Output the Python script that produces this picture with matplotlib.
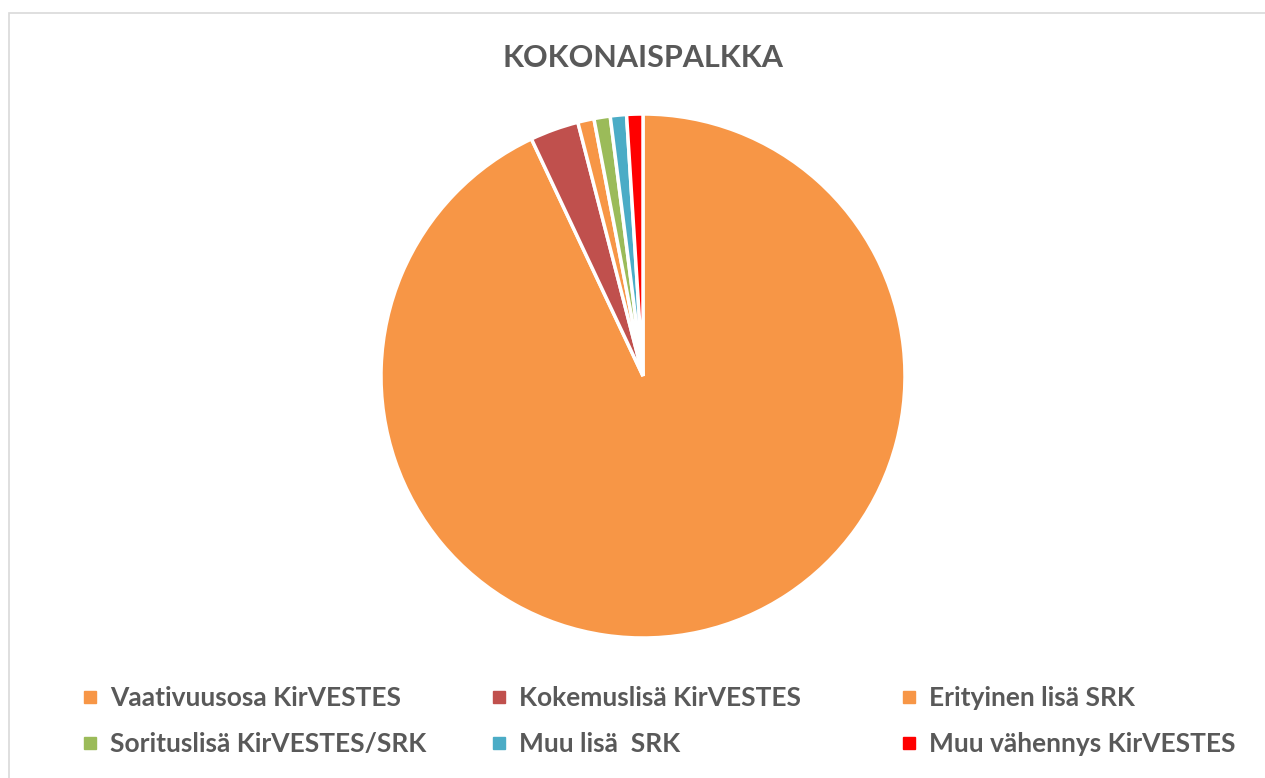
import matplotlib
matplotlib.use("Agg")
import matplotlib.pyplot as plt
from matplotlib.patches import Rectangle
from matplotlib.lines import Line2D

categories = ["Vaativuusosa KirVESTES", "Kokemuslisä KirVESTES", "Erityinen lisä SRK",
              "Sorituslisä KirVESTES/SRK", "Muu lisä  SRK", "Muu vähennys KirVESTES"]
values = [93, 3, 1, 1, 1, 1]
colors = ["#F79646", "#C0504D", "#F79646", "#9BBB59", "#4BACC6", "#FF0000"]
title = "KOKONAISPALKKA"

W, H = 1265, 778
fig = plt.figure(figsize=(W / 100, H / 100), dpi=100)
fig.patches.append(Rectangle((9 / W, -0.01), 1.1, (778 - 13) / H + 0.01, transform=fig.transFigure,
                             facecolor="none", edgecolor="#D9D9D9", linewidth=1.2, zorder=-5))

cx, cy, r = 643, 376, 262
ax = fig.add_axes([(cx - r) / W, (H - cy - r) / H, 2 * r / W, 2 * r / H])
ax.pie(values, colors=colors, startangle=90, counterclock=False, radius=1,
       wedgeprops=dict(edgecolor="white", linewidth=2.5))
ax.set_xlim(-1, 1)
ax.set_ylim(-1, 1)
ax.set_aspect("equal")
ax.axis("off")

fig.text(cx / W, 1 - 58 / H, title, ha="center", va="center", fontsize=22,
         fontweight="bold", color="#595959", family="Lato")

handles = [Line2D([], [], marker="s", linestyle="none", markersize=8, color=c) for c in colors]
col_x = [82, 491, 901]
for j in range(3):
    idx = [j, j + 3]
    leg = fig.legend([handles[i] for i in idx], [categories[i] for i in idx], ncol=1,
                     loc="upper left", bbox_to_anchor=(col_x[j] / W, 1 - 686 / H), frameon=False,
                     prop=dict(family="Lato", weight="bold", size=19), labelcolor="#595959",
                     handlelength=0.6, handletextpad=0.45, labelspacing=0.85,
                     borderpad=0, borderaxespad=0)

fig.savefig("out.png", dpi=100)
